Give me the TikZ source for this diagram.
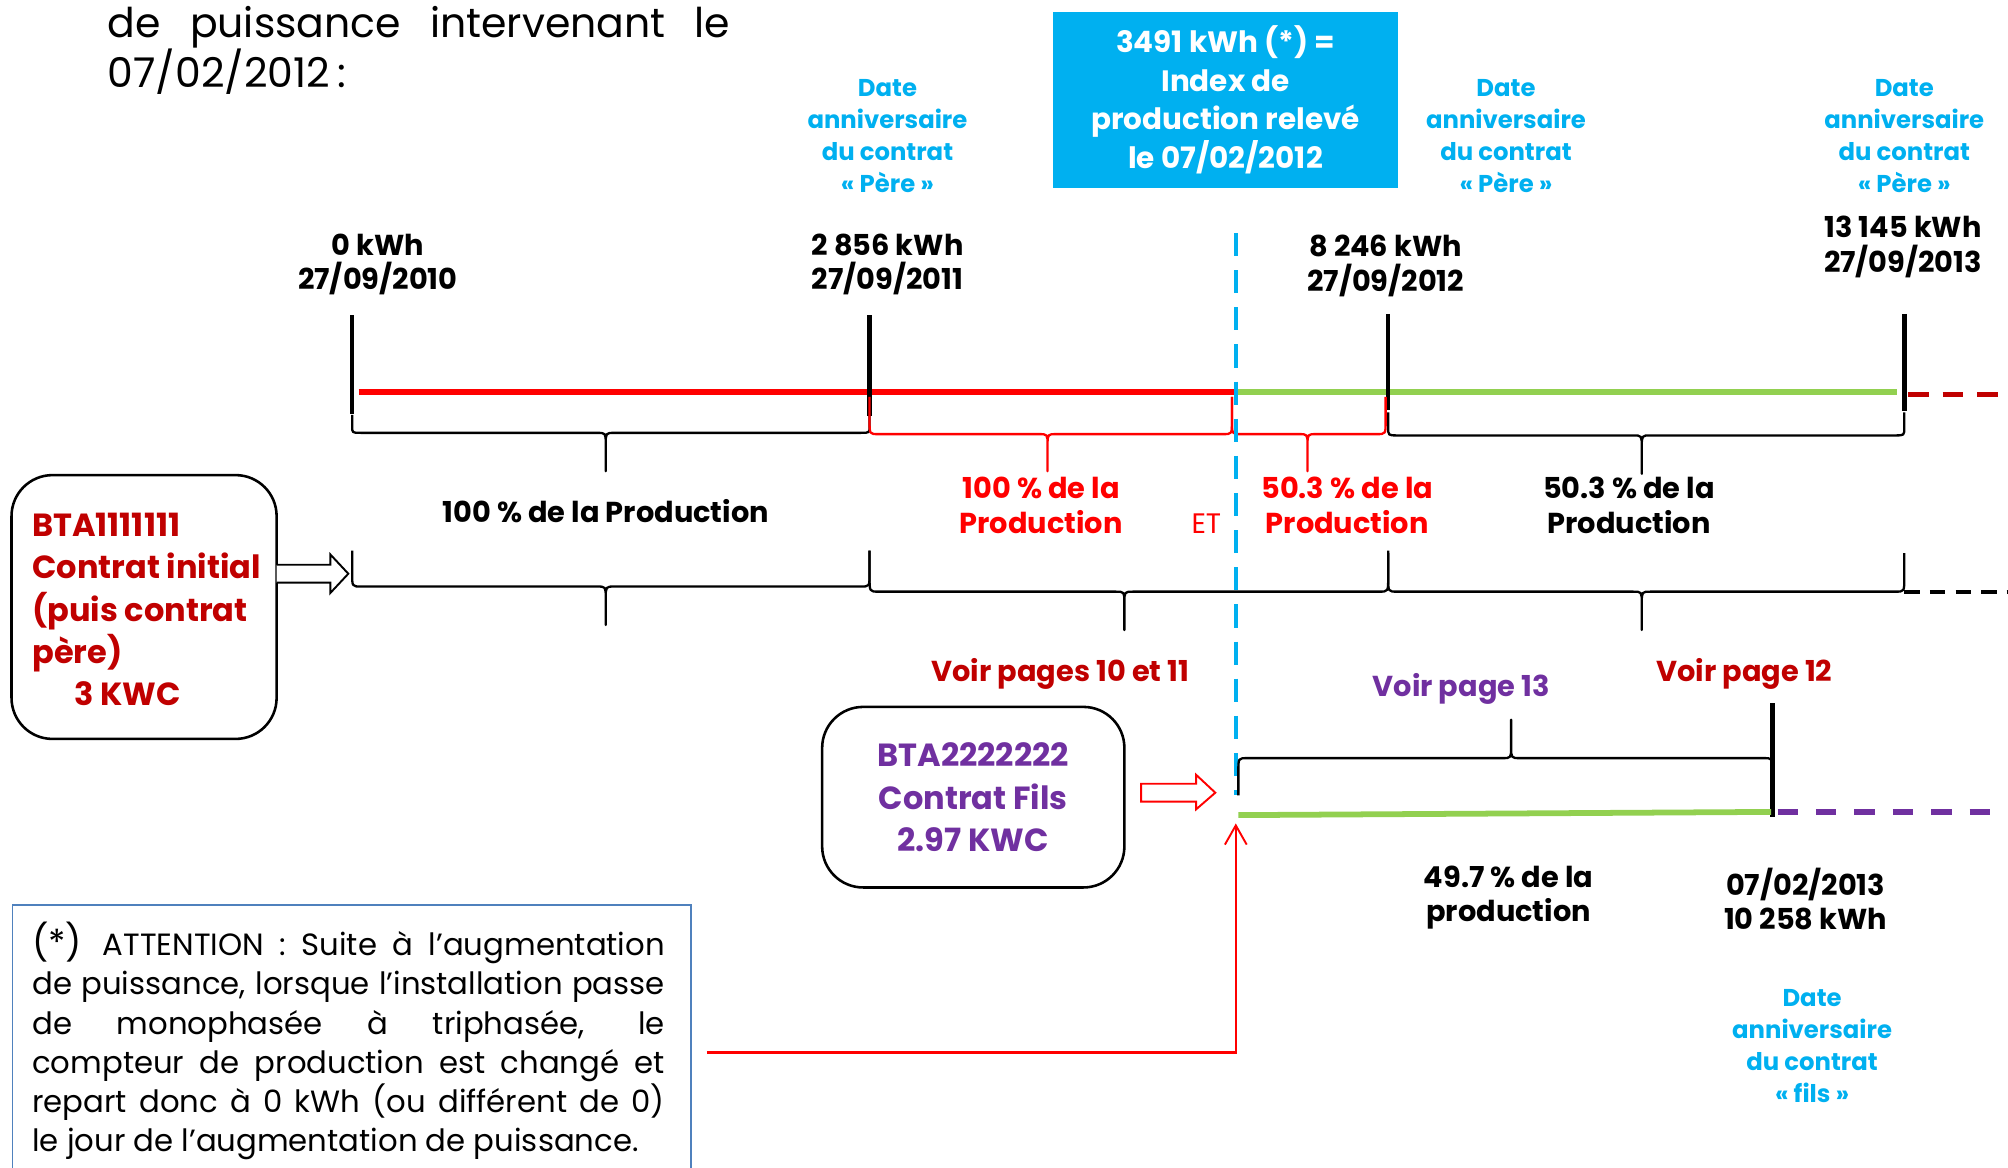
\documentclass[tikz,border=0pt]{standalone}
\usepackage{fontspec}
\setmainfont{Poppins}
\usetikzlibrary{calc,arrows.meta}
\definecolor{cy}{HTML}{00B0F0}
\definecolor{dred}{HTML}{C00000}
\definecolor{rd}{HTML}{FF0000}
\definecolor{gr}{HTML}{92D050}
\definecolor{pu}{HTML}{7030A0}
\definecolor{nb}{HTML}{4F81BD}
% #1 colour, #2 x1, #3 x2, #4 xm, #5 y ends, #6 y bar, #7 y tip
\newcommand\mybrace[7]{%
  \draw[bracel,#1] (#2,#5) -- ($(#2,#6)!0.35!(#2,#5)$) .. controls (#2,#6) .. (#2+7,#6)
    -- (#4-7,#6) .. controls (#4,#6) .. ($(#4,#6)!0.3!(#4,#7)$) -- (#4,#7)
    -- ($(#4,#6)!0.3!(#4,#7)$) .. controls (#4,#6) .. (#4+7,#6)
    -- (#3-7,#6) .. controls (#3,#6) .. ($(#3,#6)!0.35!(#3,#5)$) -- (#3,#5);}
\begin{document}
\begin{tikzpicture}[x=1pt,y=-1pt,
  bracel/.style={line width=1.8pt, line join=round},
  tx/.style={inner sep=0pt, align=center},
  bl/.style={tx, font=\bfseries\fontsize{22.5}{27}\selectfont},
  cyl/.style={tx, text=cy, font=\bfseries\fontsize{19}{25}\selectfont},
  thick line/.style={line width=4.5pt},
  tbar/.style={line width=3.5pt, black},
  rbox/.style={draw, line width=2pt, rounded corners=32pt},
  hollow/.style={line width=1.5pt, fill=white, line join=miter}
]
\clip (0,0) rectangle (1568,912);
\fill[white] (0,0) rectangle (1568,912);

% header text
\node[anchor=base west, inner sep=0pt, font=\fontsize{32}{39}\selectfont] (h1) at (84,29) {\makebox[486pt][s]{de puissance intervenant le}};
\node[anchor=base west, inner sep=0pt, font=\fontsize{32}{39}\selectfont] (h2) at (84,68) {07/02/2012\,:};

% index box
\node[tx, fill=cy, minimum width=270pt, minimum height=138pt, text=white, font=\bfseries\fontsize{23}{30}\selectfont] (idx) at (957,78) {3491 kWh (*) =\\Index de\\production relevé\\le 07/02/2012};

% anniversary labels
\node[cyl] (d1) at (693,106.5) {Date\\anniversaire\\du contrat\\« Père »};
\node[cyl] (d2) at (1176,106.5) {Date\\anniversaire\\du contrat\\« Père »};
\node[cyl] (d3) at (1487,106.5) {Date\\anniversaire\\du contrat\\« Père »};
\node[cyl] (d4) at (1415,816.5) {Date\\anniversaire\\du contrat\\« fils »};

% index labels
\node[bl] (k1) at (295,206.5) {0 kWh\\27/09/2010};
\node[bl] (k2) at (693,206.5) {2 856 kWh\\27/09/2011};
\node[bl] (k3) at (1082,207.5) {8 246 kWh\\27/09/2012};
\node[bl] (k4) at (1486,193) {13 145 kWh\\27/09/2013};

% timeline
\draw[thick line, rd] (280,306) -- (965,306);
\draw[thick line, gr] (965,306) -- (1481,306);
\draw[thick line, dred, dash pattern=on 16pt off 11pt] (1490,308) -- (1568,308);
\draw[tbar] (275,246) -- (275,323);
\draw[tbar] (679,246) -- (679,325);
\draw[tbar] (1084,245) -- (1084,320);
\draw[tbar] (1487,245) -- (1487,321);

% top braces
\mybrace{black}{275}{679}{473}{324}{338}{368}
\mybrace{rd}{679}{962}{818}{310}{339}{368}
\mybrace{rd}{962}{1082}{1021}{310}{339}{368}
\mybrace{black}{1084}{1487}{1282}{322}{340}{370}

\node[bl] (p1) at (473,399) {100 \% de la Production};
\node[bl, text=rd] (p2) at (813,394.5) {100 \% de la\\Production};
\node[tx, text=rd, font=\fontsize{22}{27}\selectfont] (et) at (942,409) {ET};
\node[bl, text=rd] (p3) at (1052,394.5) {50.3 \% de la\\Production};
\node[bl] (p4) at (1272,394.5) {50.3 \% de la\\Production};

% second row braces
\mybrace{black}{275}{679}{473}{430}{458}{488}
\mybrace{black}{679}{1084}{878}{430}{462}{492}
\mybrace{black}{1084}{1487}{1282}{432}{462}{492}
\draw[line width=3pt, dash pattern=on 12pt off 8pt] (1487,462) -- (1568,462);

\node[bl, text=dred] (v1) at (828,526) {Voir pages 10 et 11};
\node[bl, text=pu] (v2) at (1141,538) {Voir page 13};
\node[bl, text=dred] (v3) at (1362,526) {Voir page 12};

% box 1
\node[rbox, minimum width=207pt, minimum height=206pt] (b1) at (112.5,474) {};
\node[tx, align=left, anchor=west, text=dred, font=\bfseries\fontsize{25}{33}\selectfont] (b1t) at (25,476) {BTA1111111\\Contrat initial\\(puis contrat\\père)\\\hspace*{33pt}3 KWC};
\draw[hollow] (216,441) -- (258,441) -- (258,433) -- (272,448) -- (258,463) -- (258,455) -- (216,455);

% box 2
\node[rbox, minimum width=236pt, minimum height=141pt, text=pu, tx, font=\bfseries\fontsize{25}{33}\selectfont] (b2) at (760,622.5) {BTA2222222\\Contrat Fils\\2.97 KWC};
\draw[hollow, draw=rd] (891,612) -- (934,612) -- (934,605) -- (949,619) -- (934,632) -- (934,626) -- (891,626) -- cycle;

% cyan dashed change line
\draw[cy, line width=3.5pt, dash pattern=on 18pt off 11pt] (965,182) -- (965,621);

% fils timeline
\mybrace{black}{967}{1384}{1180}{621}{592}{562}
\draw[tbar] (1384,549) -- (1384,638);
\draw[thick line, gr] (967,636.5) -- (1383,634);
\draw[thick line, pu, dash pattern=on 16pt off 14pt] (1388,634) -- (1568,634);

\node[bl] (p5) at (1178,701) {49.7 \% de la\\production};
\node[bl] (k5) at (1410,702) {07/02/2013\\10 258 kWh};

% note
\node[draw=nb, line width=1.3pt, minimum width=530pt, minimum height=240pt, anchor=north west, inner sep=0pt] (note) at (9,706) {};
\node[inner sep=0pt, align=left, anchor=north west, font=\fontsize{24}{30.6}\selectfont] (nt) at (25,720) {%
\makebox[494pt][s]{{\fontsize{28}{30}\selectfont(*)}\hspace{4pt} ATTENTION : Suite à l’augmentation}\\
\makebox[494pt][s]{de puissance, lorsque l’installation passe}\\
\makebox[494pt][s]{de monophasée à triphasée, le}\\
\makebox[494pt][s]{compteur de production est changé et}\\
\makebox[494pt][s]{repart donc à 0 kWh (ou différent de 0)}\\
le jour de l’augmentation de puissance.};

\coordinate (rs) at (552,822);
\coordinate (fs) at (965,643);
\draw[rd, line width=2pt, -{Straight Barb[length=15pt,width=17pt,line width=1.5pt]}] (rs) -| (fs);
\end{tikzpicture}
\end{document}
